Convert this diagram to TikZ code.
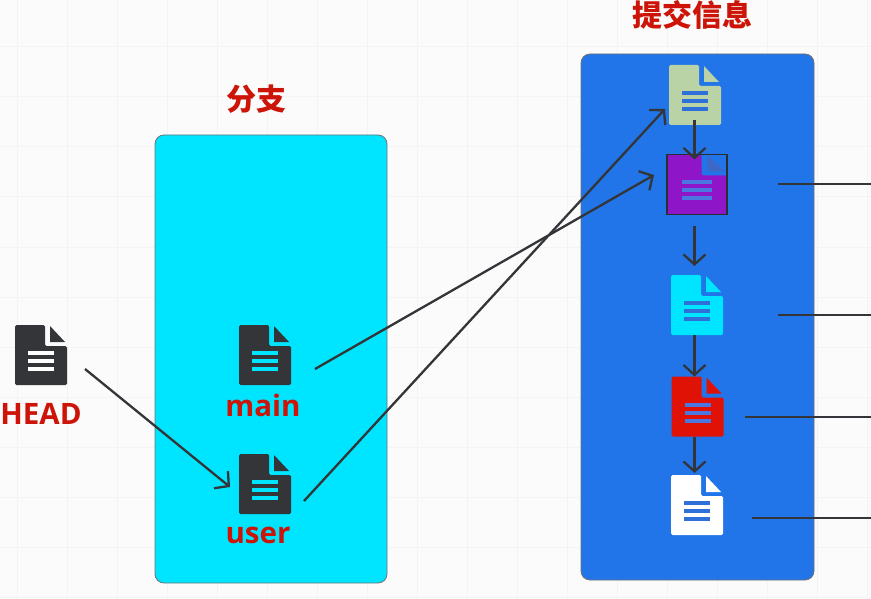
\documentclass[tikz,border=0pt]{standalone}
\usepackage{fontspec}
\setmainfont{Open Sans}
\newfontfamily\cjk{Noto Sans CJK SC}
\definecolor{mypaper}{HTML}{FBFBFB}
\definecolor{mygrid}{HTML}{F4F4F4}
\definecolor{mycyan}{HTML}{00E5FF}
\definecolor{myblue}{HTML}{2175E8}
\definecolor{myink}{HTML}{333538}
\definecolor{myred}{HTML}{CC1408}
\definecolor{mygreen}{HTML}{B9D3A6}
\definecolor{mypurple}{HTML}{8E16C8}
\definecolor{myfold}{HTML}{3D68C8}
\definecolor{mydocred}{HTML}{E01206}
\definecolor{mybar}{HTML}{2F6FD8}
\definecolor{mysoftbar}{HTML}{4A78E0}
\usetikzlibrary{positioning,arrows.meta}
\tikzset{
    panel/.style={draw=myink!70,line width=0.8pt,rounded corners=9pt},
    docbox/.style={minimum width=52pt,minimum height=60pt,inner sep=0pt,outer sep=0pt},
    title/.style={text=myred,font=\cjk\bfseries\fontsize{30}{30}\selectfont,inner sep=0pt},
    tag/.style={text=myred,font=\bfseries\fontsize{29.5}{30}\selectfont,inner sep=0pt},
    link/.style={draw=myink,line width=2.3pt,-{Straight Barb[length=10pt,width=22pt,line width=2.3pt]}},
    lead/.style={draw=myink,line width=2.3pt},
}
% name, x, y, body, bars, fold, width
\newcommand{\docicon}[7]{
    \node[docbox,minimum width=#7pt] (#1) at (#2,-#3) {};
    \begin{scope}[shift={(#1.north west)},xscale=#7/52]
        \fill[#4,rounded corners=1.5pt] (0,0) -- (30,0) -- (30,-21) -- (52,-21) -- (52,-60) -- (0,-60) -- cycle;
        \fill[#6] (35,-1) -- (50,-17) -- (35,-17) -- cycle;
        \foreach \bary in {-28,-36,-44}
            \fill[#5] (13,\bary-2) rectangle (39,\bary+2);
    \end{scope}
}
\begin{document}
\begin{tikzpicture}[x=1pt,y=1pt]
    \useasboundingbox (0,0) rectangle (871,-599);
    \fill[mypaper] (0,0) rectangle (871,-599);
    \foreach \gridx in {17,67,...,867}
        \draw[mygrid,line width=1pt] (\gridx,0) -- (\gridx,-599);
    \foreach \gridy in {47,97,...,597}
        \draw[mygrid,line width=1pt] (0,-\gridy) -- (871,-\gridy);

    \node[panel,fill=mycyan,minimum width=232pt,minimum height=448pt] (branches) at (271,-359) {};
    \node[panel,fill=myblue,minimum width=233pt,minimum height=526pt] (commits) at (697.5,-317) {};
    \node[title] (branchtitle) at (256,-99) {分支};
    \node[title] (committitle) at (692,-15) {提交信息};

    \docicon{head}{41}{355}{myink}{white}{myink}{52}
    \docicon{main}{265}{355}{myink}{mycyan}{myink}{52}
    \docicon{user}{265}{484}{myink}{mycyan}{myink}{52}
    \node[tag,below=18pt of head] (headlabel) {HEAD};
    \node[tag,below=9pt of main,xshift=-2pt] (mainlabel) {main};
    \node[tag,below=13pt of user,xshift=-7pt] (userlabel) {user};

    \docicon{first}{695}{95}{mygreen}{mybar}{mygreen}{52}
    \docicon{second}{697}{184.5}{mypurple}{mysoftbar}{myfold}{60}
    \draw[myink!85!black,line width=1.2pt] (second.north west) rectangle (second.south east);
    \docicon{third}{697}{305}{mycyan}{mybar}{mycyan}{52}
    \docicon{fourth}{697.5}{406.5}{mydocred}{mysoftbar}{mydocred}{52}
    \docicon{fifth}{697}{505}{white}{mybar}{white}{52}

    \draw[link] ([shift={(18,-14)}]head.east) -- ([shift={(-9,-3)}]user.west);
    \draw[link] ([shift={(24,-14)}]main.east) -- ([shift={(-13,9.5)}]second.west);
    \draw[link] ([shift={(13,-17)}]user.east) -- ([shift={(-4,-14)}]first.west);
    \draw[link] ([shift={(-0.5,5)}]first.south) -- ([shift={(-2.5,-5)}]second.north);
    \draw[link] ([shift={(-2.5,-12)}]second.south) -- ([shift={(-2.5,9)}]third.north);
    \draw[link] ([shift={(-2.5,0)}]third.south) -- ([shift={(-3,0)}]fourth.north);
    \draw[link] ([shift={(-3,0)}]fourth.south) -- ([shift={(-2.5,2)}]fifth.north);

    \coordinate (secondend) at (871,-184);
    \coordinate (thirdend) at (871,-315);
    \coordinate (fourthend) at (871,-417);
    \coordinate (fifthend) at (871,-518);
    \draw[lead] ([shift={(51,0.5)}]second.east) -- (secondend);
    \draw[lead] ([shift={(55,-10)}]third.east) -- (thirdend);
    \draw[lead] ([shift={(21.5,-10.5)}]fourth.east) -- (fourthend);
    \draw[lead] ([shift={(29,-13)}]fifth.east) -- (fifthend);
\end{tikzpicture}
\end{document}
